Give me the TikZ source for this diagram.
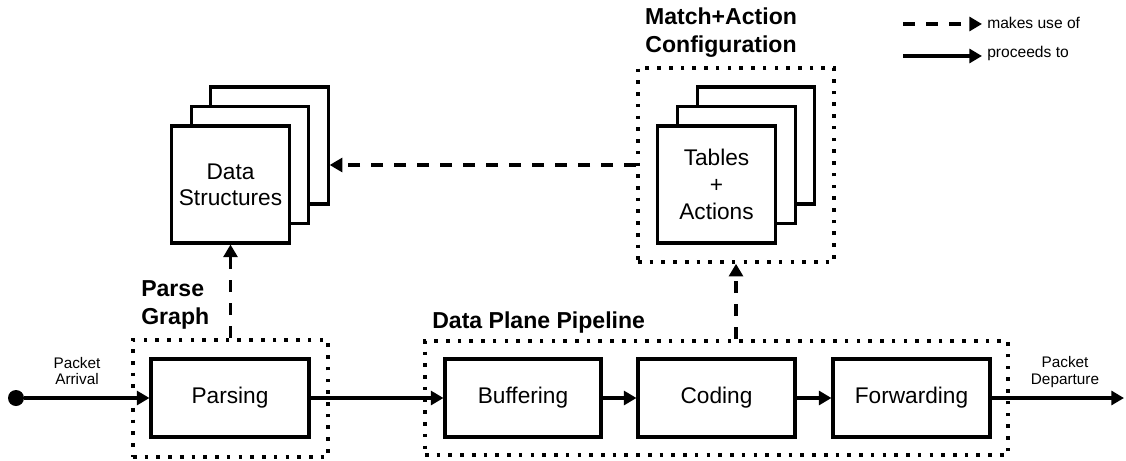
\documentclass[tikz,border=0pt]{standalone}
\usepackage{fontspec}
\setmainfont{Liberation Sans}
\usetikzlibrary{arrows.meta}
\begin{document}
\begin{tikzpicture}[x=0.75pt,y=-0.75pt,
  box/.style={draw,line width=2.3pt,fill=white,inner sep=0pt,align=center,font=\fontsize{17}{19.5}\selectfont,minimum height=58.5pt},
  stackbox/.style={box,minimum width=88pt,minimum height=87.75pt},
  grp/.style={draw,line width=2.7pt,dash pattern=on 2.7pt off 6.1pt,inner sep=0pt},
  title/.style={font=\fontsize{17.3}{21}\selectfont\bfseries,inner sep=0pt},
  small/.style={font=\fontsize{11.5}{12.5}\selectfont,inner sep=0pt,align=center},
  flow/.style={line width=2.3pt,-{Triangle[length=9.5pt,width=10.5pt]}},
  uses/.style={flow,dash pattern=on 9pt off 8.25pt},
]
\useasboundingbox (0,0) rectangle (1126,460);

% group frames
\node[grp,minimum width=146.25pt,minimum height=87.75pt] (pg) at (230.5,398.5) {};
\node[grp,minimum width=437.25pt,minimum height=85.5pt] (dp) at (716.5,398) {};
\node[grp,minimum width=147pt,minimum height=145.5pt] (ma) at (736,165) {};

% pipeline boxes
\node[box,minimum width=118.5pt] (parsing) at (230,398) {Parsing};
\node[box,minimum width=117pt] (buffering) at (523,398) {Buffering};
\node[box,minimum width=117.75pt] (coding) at (716.5,398) {Coding};
\node[box,minimum width=117.75pt] (forwarding) at (911.5,398) {Forwarding};

% data structures stack
\node[stackbox] (ds3) at (269.5,145.5) {};
\node[stackbox] (ds2) at (250,165) {};
\node[stackbox] (ds1) at (230.5,184.5) {Data\\Structures};

% tables stack
\node[stackbox] (ta3) at (756,145.5) {};
\node[stackbox] (ta2) at (736.5,165) {};
\node[stackbox,font=\fontsize{17}{20.25}\selectfont] (ta1) at (716.5,184.5) {Tables\\+\\Actions};

% start / end
\node[circle,fill=black,inner sep=0pt,minimum size=12pt] (start) at (16,398) {};
\coordinate (exit) at (1124,398);

% connectors
\draw[flow] (start) -- (parsing);
\draw[flow] (parsing) -- (buffering);
\draw[flow] (buffering) -- (coding);
\draw[flow] (coding) -- (forwarding);
\draw[flow] (forwarding) -- (exit);
\draw[uses] (pg.north) -- (ds1.south);
\draw[uses] (ma.south |- dp.north) -- (ma.south);
\draw[uses] (ma.west) -- (ma.west -| ds3.east);

% labels
\node[small] (arr) at (77,371) {Packet\\Arrival};
\node[small] (dep) at (1065,372) {Packet\\Departure};
\node[title,anchor=west,align=left] (pgt) at (141,305) {Parse\\Graph};
\node[title,anchor=west] (dpt) at (432,323) {Data Plane Pipeline};
\node[title,align=center] (mat) at (721,33) {Match+Action\\Configuration};

% legend
\coordinate (l1a) at (903,24);
\coordinate (l1b) at (982,24);
\coordinate (l2a) at (903,56);
\coordinate (l2b) at (982,56);
\draw[uses] (l1a) -- (l1b);
\draw[flow] (l2a) -- (l2b);
\node[small,anchor=west,font=\fontsize{11.7}{13}\selectfont] (lt1) at (987,23) {makes use of};
\node[small,anchor=west,font=\fontsize{11.7}{13}\selectfont] (lt2) at (987,53) {proceeds to};
\end{tikzpicture}
\end{document}
